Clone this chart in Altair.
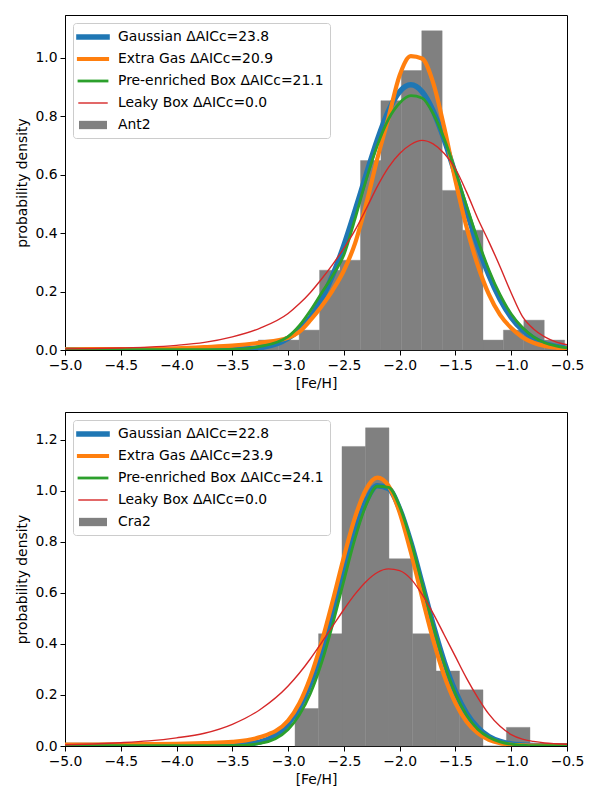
import altair as alt
import pandas as pd

# ---------------- data ----------------
FEH = [-5.0, -4.75, -4.5, -4.25, -4.0, -3.75, -3.5, -3.25,
       -3.0, -2.9, -2.8, -2.7, -2.6, -2.5, -2.4, -2.3, -2.2, -2.1, -2.0,
       -1.9, -1.8, -1.7, -1.6, -1.5, -1.4, -1.3, -1.2, -1.1, -1.0, -0.9,
       -0.8, -0.7, -0.6, -0.5]

# Ant2 (top panel)
ANT2_GAUSS = [0.001, 0.001, 0.001, 0.001, 0.001, 0.001, 0.002, 0.008,
              0.040, 0.069, 0.112, 0.174, 0.256, 0.358, 0.476, 0.600, 0.719, 0.818, 0.884,
              0.907, 0.884, 0.818, 0.719, 0.600, 0.476, 0.358, 0.256, 0.174, 0.112, 0.069,
              0.040, 0.022, 0.012, 0.006]
ANT2_EXTRA = [0.002, 0.003, 0.003, 0.004, 0.006, 0.010, 0.015, 0.025,
              0.042, 0.062, 0.102, 0.150, 0.205, 0.272, 0.365, 0.500, 0.655, 0.795, 0.940,
              1.005, 0.997, 0.915, 0.760, 0.580, 0.420, 0.290, 0.190, 0.120, 0.075, 0.044,
              0.025, 0.014, 0.008, 0.005]
ANT2_PRE = [0.001, 0.001, 0.001, 0.001, 0.001, 0.001, 0.002, 0.012,
            0.046, 0.083, 0.135, 0.195, 0.255, 0.325, 0.449, 0.583, 0.700, 0.790, 0.845,
            0.870, 0.862, 0.809, 0.722, 0.612, 0.493, 0.377, 0.274, 0.189, 0.123, 0.077,
            0.045, 0.025, 0.014, 0.007]
ANT2_LEAKY = [0.004, 0.005, 0.007, 0.010, 0.016, 0.026, 0.045, 0.075,
              0.125, 0.158, 0.197, 0.243, 0.293, 0.348, 0.410, 0.483, 0.560, 0.625, 0.672,
              0.703, 0.717, 0.705, 0.672, 0.620, 0.540, 0.450, 0.370, 0.285, 0.195, 0.115,
              0.072, 0.045, 0.028, 0.018]
ANT2_EDGES = [-3.267, -3.084, -2.901, -2.718, -2.535, -2.351, -2.168, -1.985,
              -1.802, -1.619, -1.436, -1.253, -1.070, -0.887, -0.704, -0.521]
ANT2_HIST = [0.034, 0.034, 0.068, 0.273, 0.307, 0.648, 0.853, 0.956,
             1.092, 0.546, 0.410, 0.034, 0.068, 0.102, 0.034]
ANT2_LABELS = ["Gaussian ΔAICc=23.8", "Extra Gas ΔAICc=20.9",
               "Pre-enriched Box ΔAICc=21.1", "Leaky Box ΔAICc=0.0", "Ant2"]

# Cra2 (bottom panel)
CRA2_GAUSS = [0.002, 0.002, 0.002, 0.002, 0.002, 0.002, 0.003, 0.016,
              0.086, 0.150, 0.244, 0.370, 0.523, 0.687, 0.841, 0.960, 1.020, 1.009, 0.929,
              0.798, 0.638, 0.475, 0.329, 0.213, 0.128, 0.072, 0.037, 0.018, 0.008, 0.004,
              0.002, 0.001, 0.001, 0.001]
CRA2_EXTRA = [0.005, 0.005, 0.006, 0.007, 0.008, 0.011, 0.016, 0.035,
              0.100, 0.167, 0.270, 0.407, 0.569, 0.741, 0.896, 1.007, 1.052, 1.020, 0.915,
              0.760, 0.585, 0.417, 0.275, 0.168, 0.095, 0.050, 0.024, 0.011, 0.005, 0.003,
              0.002, 0.002, 0.002, 0.002]
CRA2_PRE = [0.001, 0.001, 0.001, 0.001, 0.001, 0.001, 0.001, 0.010,
            0.065, 0.121, 0.206, 0.326, 0.478, 0.648, 0.814, 0.946, 1.018, 1.014, 0.938,
            0.804, 0.639, 0.472, 0.323, 0.205, 0.121, 0.066, 0.034, 0.016, 0.007, 0.003,
            0.001, 0.001, 0.001, 0.001]
CRA2_LEAKY = [0.005, 0.008, 0.013, 0.020, 0.032, 0.050, 0.085, 0.143,
              0.235, 0.285, 0.342, 0.405, 0.470, 0.535, 0.595, 0.645, 0.680, 0.694, 0.687,
              0.655, 0.595, 0.520, 0.435, 0.350, 0.265, 0.190, 0.125, 0.077, 0.045, 0.027,
              0.018, 0.012, 0.009, 0.007]
CRA2_EDGES = [-2.938, -2.727, -2.517, -2.306, -2.096, -1.885, -1.674,
              -1.464, -1.253, -1.043, -0.832]
CRA2_HIST = [0.147, 0.440, 1.174, 1.247, 0.734, 0.440, 0.294, 0.220, 0.0, 0.073]
CRA2_LABELS = ["Gaussian ΔAICc=22.8", "Extra Gas ΔAICc=23.9",
               "Pre-enriched Box ΔAICc=24.1", "Leaky Box ΔAICc=0.0", "Cra2"]

X_TICKS = [-5.0, -4.5, -4.0, -3.5, -3.0, -2.5, -2.0, -1.5, -1.0, -0.5]
Y_TICKS_TOP = [0.0, 0.2, 0.4, 0.6, 0.8, 1.0]
Y_TICKS_BOT = [0.0, 0.2, 0.4, 0.6, 0.8, 1.0, 1.2]

# ---------------- styling ----------------
COLORS = ["#1f77b4", "#ff7f0e", "#2ca02c", "#d62728", "#808080"]
WIDTHS = [5.5, 4.2, 2.8, 1.4]
# legend handles: symbol unit = 8px, handle spans 0..28px of the entry
LEGEND_PATHS = [
    "M-1.35,-0.344H2.85V0.344H-1.35Z",
    "M-1.26,-0.262H2.76V0.262H-1.26Z",
    "M-1.175,-0.175H2.675V0.175H-1.175Z",
    "M-1.09,-0.0875H2.59V0.0875H-1.09Z",
    "M-1,-0.52H2.5V0.52H-1Z",
]
FONT = "DejaVu Sans"
FS = 13.9


def panel(curves, edges, hist, labels, ymax, yticks, height):
    xs = alt.Scale(domain=[-5.0, -0.5], nice=False, zero=False, padding=0)
    ys = alt.Scale(domain=[0, ymax], nice=False, zero=False, padding=0)
    xax = alt.Axis(values=X_TICKS, format=".1f", title="[Fe/H]")
    yax = alt.Axis(values=yticks, format=".1f", title="probability density")

    hist_df = pd.DataFrame({"feh": edges[:-1], "hi": edges[1:], "dens": hist})
    layers = [
        alt.Chart(hist_df).mark_rect(color=COLORS[4], stroke=COLORS[4], strokeWidth=0.4).encode(
            x=alt.X("feh:Q", scale=xs, axis=xax),
            x2="hi:Q",
            y=alt.Y("dens:Q", scale=ys, axis=yax),
            y2=alt.datum(0),
        )
    ]
    for vals, col, w in zip(curves, COLORS[:4], WIDTHS):
        df = pd.DataFrame({"feh": FEH, "dens": vals})
        layers.append(
            alt.Chart(df).mark_line(color=col, strokeWidth=w,
                                     interpolate="monotone", clip=True).encode(
                x=alt.X("feh:Q", scale=xs, axis=xax),
                y=alt.Y("dens:Q", scale=ys, axis=yax),
            )
        )
    leg = alt.Legend(
        title=None, orient="none", legendX=8, legendY=8,
        symbolSize=256, symbolStrokeWidth=0, symbolOpacity=1,
        labelFont=FONT, labelFontSize=FS, labelColor="black",
        labelOffset=23, labelLimit=0, rowPadding=7, padding=6,
        fillColor="rgba(255,255,255,0.8)", strokeColor="#cccccc",
        cornerRadius=3,
    )
    leg_df = pd.DataFrame({"series": labels, "feh": [100.0] * 5, "dens": [0.0] * 5})
    layers.append(
        alt.Chart(leg_df).mark_point(filled=True, opacity=1, clip=True).encode(
            x=alt.X("feh:Q", scale=xs, axis=xax),
            y=alt.Y("dens:Q", scale=ys, axis=yax),
            color=alt.Color("series:N", scale=alt.Scale(domain=labels, range=COLORS), legend=leg),
            shape=alt.Shape("series:N", scale=alt.Scale(domain=labels, range=LEGEND_PATHS), legend=leg),
        )
    )
    return alt.layer(*layers).properties(width=502, height=height)


top = panel([ANT2_GAUSS, ANT2_EXTRA, ANT2_PRE, ANT2_LEAKY], ANT2_EDGES, ANT2_HIST,
            ANT2_LABELS, 1.146, Y_TICKS_TOP, 335)
bottom = panel([CRA2_GAUSS, CRA2_EXTRA, CRA2_PRE, CRA2_LEAKY], CRA2_EDGES, CRA2_HIST,
               CRA2_LABELS, 1.309, Y_TICKS_BOT, 334)

chart = (
    alt.vconcat(top, bottom, spacing=19)
    .resolve_scale(x="independent", y="independent", color="independent", shape="independent")
    .resolve_legend(color="independent", shape="independent")
    .properties(padding={"left": 7, "top": 6, "right": 5, "bottom": 5}, background="white")
    .configure_view(stroke="black", strokeWidth=1)
    .configure_axis(
        grid=False, domainColor="black", domainWidth=1, tickColor="black", tickSize=5,
        tickWidth=1, labelColor="black", labelFont=FONT, labelFontSize=FS, labelPadding=3,
        labelFlush=False, labelOverlap=False,
        titleColor="black", titleFont=FONT, titleFontSize=FS, titleFontWeight="normal",
        titlePadding=5,
    )
)

chart.save("out.html", embed_options={"renderer": "svg", "actions": False})
